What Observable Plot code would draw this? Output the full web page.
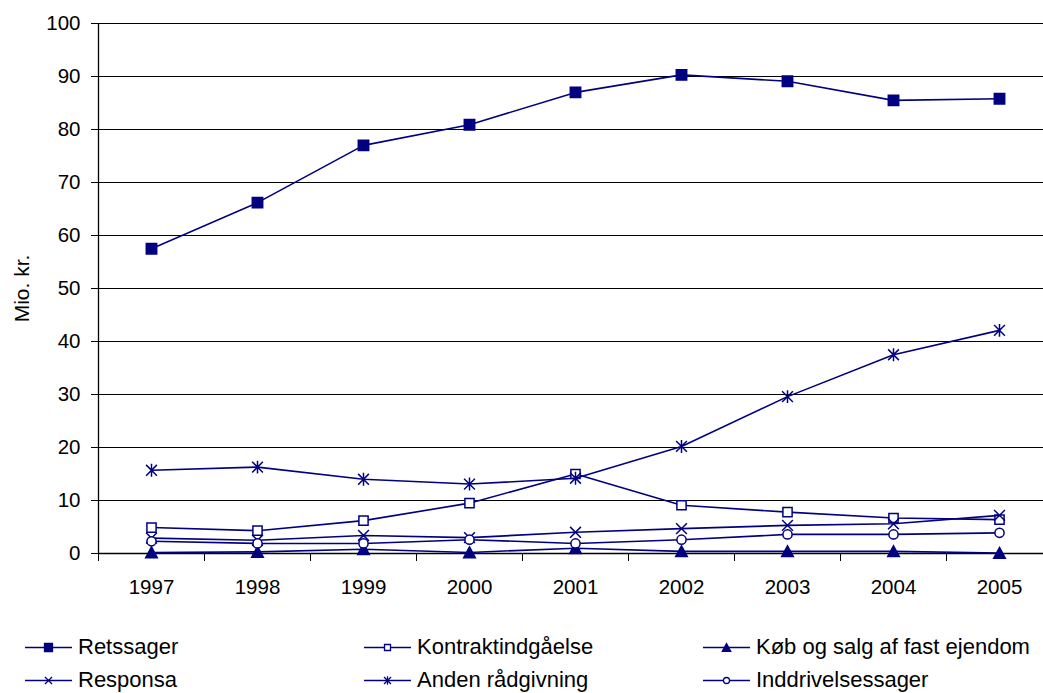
<!DOCTYPE html>
<html><head><meta charset="utf-8">
<script src="https://cdn.jsdelivr.net/npm/d3@7"></script>
<script src="https://cdn.jsdelivr.net/npm/@observablehq/plot@0.6"></script>
<style>
body{margin:0;background:#fff;font-family:"Liberation Sans",Arial,sans-serif;}
#chart svg{display:block}
#legend{position:relative;width:1043px;height:78px;}
.item{position:absolute;display:flex;align-items:center;font-size:22px;color:#000;height:26px;line-height:26px;white-space:nowrap}
.item svg{display:block;margin-right:5px}
</style></head><body>
<div id="chart"></div><div id="legend"></div>
<script>
const years = [1997, 1998, 1999, 2000, 2001, 2002, 2003, 2004, 2005];
const seriesNames = ["Retssager", "Kontraktindgåelse", "Køb og salg af fast ejendom", "Responsa", "Anden rådgivning", "Inddrivelsessager"];
const retssager        = [57.5, 66.2, 77.0, 80.9, 87.0, 90.3, 89.1, 85.5, 85.8];
const kontraktindgaelse = [4.9, 4.3, 6.2, 9.5, 15.0, 9.1, 7.8, 6.7, 6.4];
const koebOgSalg       = [0.2, 0.3, 0.8, 0.2, 1.0, 0.4, 0.4, 0.4, 0.1];
const responsa         = [2.9, 2.5, 3.4, 3.0, 4.0, 4.7, 5.3, 5.6, 7.2];
const andenRaadgivning = [15.7, 16.3, 14.0, 13.1, 14.2, 20.2, 29.6, 37.5, 42.1];
const inddrivelse      = [2.3, 1.9, 1.9, 2.6, 1.9, 2.6, 3.6, 3.6, 3.9];
const yTicks = [0, 10, 20, 30, 40, 50, 60, 70, 80, 90, 100];
const yLabel = "Mio. kr.";

const seriesValues = [retssager, kontraktindgaelse, koebOgSalg, responsa, andenRaadgivning, inddrivelse];
const navy = "#000080";

const rad = size => Math.sqrt(size / Math.PI);
const sym = {
  square:   {draw(c, s){const r = rad(s); c.rect(-r, -r, 2*r, 2*r);}},
  triangle: {draw(c, s){const r = rad(s); c.moveTo(0, -r*0.95); c.lineTo(r, r*0.9); c.lineTo(-r, r*0.9); c.closePath();}},
  times:    {draw(c, s){const r = rad(s); c.moveTo(-r, -r); c.lineTo(r, r); c.moveTo(-r, r); c.lineTo(r, -r);}},
  asterisk: {draw(c, s){const r = rad(s); c.moveTo(-r, -r); c.lineTo(r, r); c.moveTo(-r, r); c.lineTo(r, -r); c.moveTo(0, -r*1.2); c.lineTo(0, r*1.2);}},
  circle:   {draw(c, s){const r = rad(s); c.moveTo(r, 0); c.arc(0, 0, r, 0, 2*Math.PI);}}
};
const styles = [
  {symbol: sym.square,   r: 5.2, fill: navy,   stroke: navy, lr: 4},
  {symbol: sym.square,   r: 4.6, fill: "white", stroke: navy, lr: 3},
  {symbol: sym.triangle, r: 5.8, fill: navy,   stroke: navy, lr: 4.2},
  {symbol: sym.times,    r: 5.4, fill: "none", stroke: navy, lr: 3.5},
  {symbol: sym.asterisk, r: 5.4, fill: "none", stroke: navy, lr: 3.5},
  {symbol: sym.circle,   r: 4.6, fill: "white", stroke: navy, lr: 3}
];

const table = seriesNames.map((name, i) => years.map((year, j) => ({series: name, year, value: seriesValues[i][j]})));
const halfTicks = d3.range(years.length + 1).map(i => years[0] - 0.5 + i);

const marks = [
  Plot.gridY(yTicks, {stroke: "black", strokeOpacity: 1, strokeWidth: 1}),
  Plot.ruleX([years[0] - 0.5], {stroke: "black", strokeWidth: 1.3}),
  Plot.ruleY([0], {stroke: "black", strokeWidth: 1.3}),
  Plot.axisY(yTicks, {tickSize: 7, tickPadding: 11, fontSize: 20.5, label: null}),
  Plot.axisX(halfTicks, {tickSize: 8, tickFormat: () => "", label: null}),
  Plot.axisX(years, {tickSize: 0, tickPadding: 26, fontSize: 20.5, tickFormat: d => String(d), label: null}),
  Plot.text([yLabel], {frameAnchor: "left", text: d => d, rotate: -90, dx: -76, fontSize: 21, textAnchor: "middle", lineAnchor: "middle"})
];
table.forEach((rows, i) => {
  const st = styles[i];
  marks.push(Plot.line(rows, {x: "year", y: "value", stroke: navy, strokeWidth: 1.6}));
  marks.push(Plot.dot(rows, {x: "year", y: "value", symbol: st.symbol, r: st.r, fill: st.fill, stroke: st.stroke, strokeWidth: 1.5}));
});

const chart = Plot.plot({
  width: 1043,
  height: 615,
  marginLeft: 98,
  marginRight: -9,
  marginTop: 23,
  marginBottom: 62,
  style: {fontFamily: "Liberation Sans, Arial, sans-serif", fontSize: "20px", color: "black", background: "white", overflow: "hidden"},
  x: {type: "linear", domain: [years[0] - 0.5, years[years.length - 1] + 0.5]},
  y: {domain: [0, 100]},
  marks
});
document.getElementById("chart").append(chart);

// legend
const legend = document.getElementById("legend");
const colX = [25, 364, 703];
const rowY = [32, 65];
seriesNames.forEach((name, i) => {
  const st = styles[i];
  const div = document.createElement("div");
  div.className = "item";
  div.style.left = colX[i % 3] + "px";
  div.style.top = (rowY[Math.floor(i / 3)] - 13) + "px";
  const svg = d3.create("svg").attr("width", 48).attr("height", 26);
  svg.append("line").attr("x1", 0).attr("x2", 47).attr("y1", 13.5).attr("y2", 13.5).attr("stroke", navy).attr("stroke-width", 1.6);
  const p = d3.path();
  st.symbol.draw(p, Math.PI * st.lr * st.lr);
  svg.append("path").attr("d", p.toString()).attr("transform", "translate(23.5,13.5)")
    .attr("fill", st.fill).attr("stroke", navy).attr("stroke-width", 1.3);
  div.append(svg.node());
  const span = document.createElement("span");
  span.textContent = name;
  div.append(span);
  legend.append(div);
});
</script>
</body></html>
